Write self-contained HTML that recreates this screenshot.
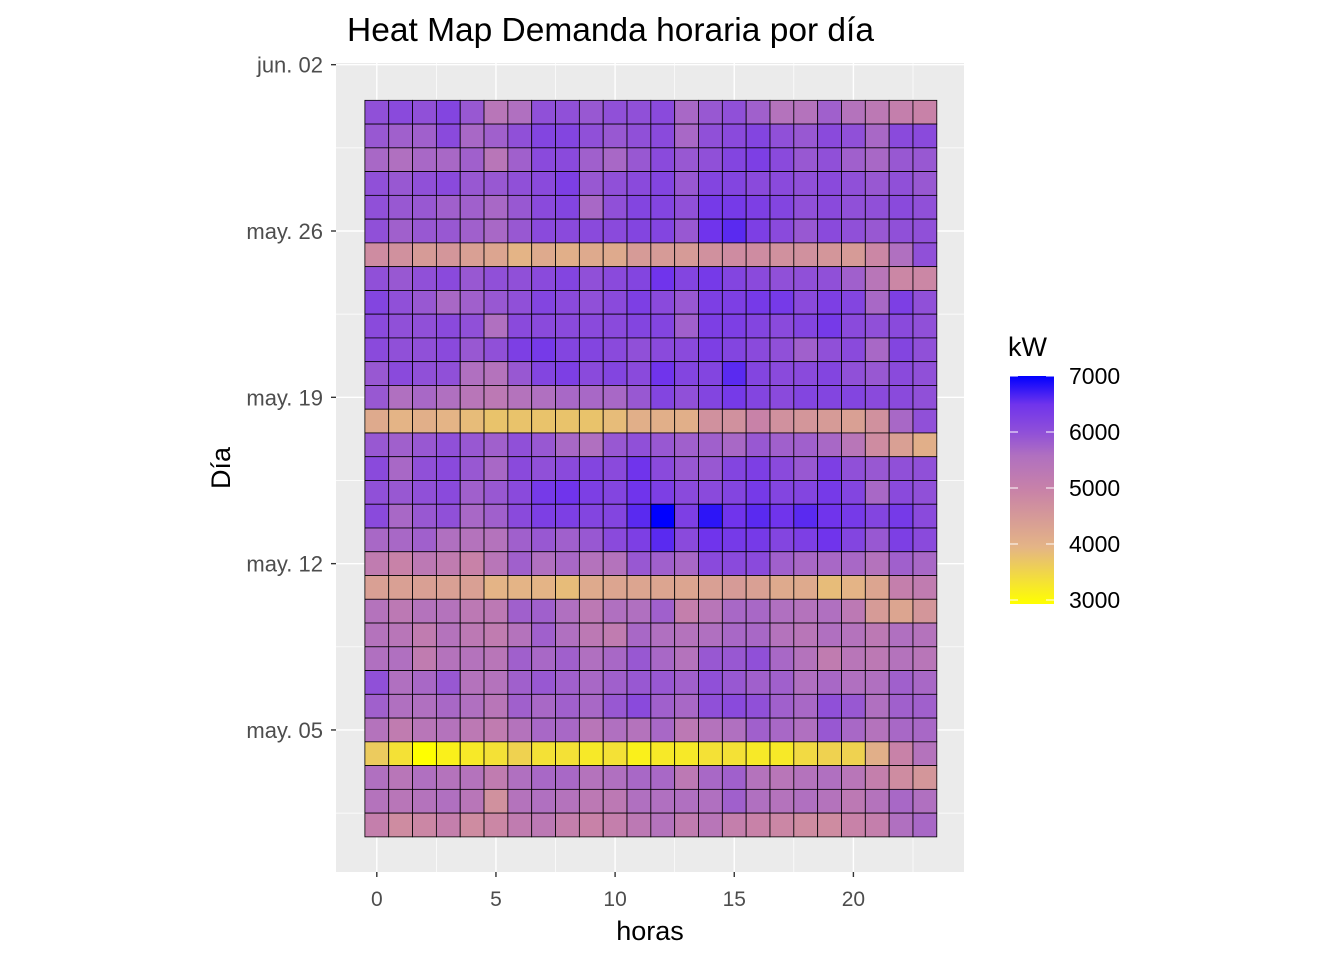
<!DOCTYPE html>
<html><head><meta charset="utf-8"><style>body{margin:0;background:#fff}svg{display:block;font-family:"Liberation Sans",sans-serif}</style></head>
<body>
<svg id="chart" width="1344" height="960" viewBox="0 0 1344 960">
<defs><linearGradient id="lg" x1="0" y1="1" x2="0" y2="0">
<stop offset="0" stop-color="#ffff00"/><stop offset="0.25" stop-color="#e4b486"/><stop offset="0.5" stop-color="#c882a8"/><stop offset="0.65" stop-color="#b070c0"/><stop offset="0.75" stop-color="#9050d8"/><stop offset="0.875" stop-color="#7034ec"/><stop offset="1" stop-color="#0000ff"/></linearGradient></defs>
<rect x="336" y="63" width="628" height="809" fill="#ebebeb"/>
<g id="grid"></g><g id="tiles"></g><g id="axes"></g>
<text x="347" y="41" font-size="33.5" fill="#000">Heat Map Demanda horaria por día</text>
<text x="650" y="940" font-size="27" text-anchor="middle" fill="#000">horas</text>
<text transform="translate(230,468) rotate(-90)" font-size="27" text-anchor="middle" fill="#000">Día</text>
<g>
<text x="1008" y="356" font-size="27" fill="#000">kW</text>
<rect x="1010" y="376" width="44" height="228" fill="url(#lg)"/>
<g id="legend-ticks"></g>
</g>
</svg>
<script>
const hours = [0,1,2,3,4,5,6,7,8,9,10,11,12,13,14,15,16,17,18,19,20,21,22,23];
// rows from May 31 (top) to May 1 (bottom), values in hundreds of kW
const demandRows = [
"60 61 60 62 59 54 56 60 60 59 60 60 61 57 59 60 58 55 55 58 55 53 51 50",
"59 58 58 61 57 58 60 62 62 60 59 60 61 57 60 61 62 60 59 61 60 57 61 61",
"57 56 57 57 58 54 58 61 61 58 57 59 61 59 60 62 63 61 59 60 58 57 59 59",
"60 59 60 61 59 59 60 61 63 59 60 61 62 59 62 62 61 61 60 61 60 59 60 59",
"60 59 59 58 58 57 59 61 62 57 60 62 62 60 64 64 63 62 60 61 60 60 61 60",
"60 58 59 59 58 57 59 61 61 61 61 62 62 59 65 66 63 61 59 61 60 59 60 60",
"48 47 45 46 44 43 40 42 41 42 42 45 45 45 47 48 48 47 47 46 45 49 56 60",
"60 59 60 61 59 60 60 61 62 60 61 62 65 62 64 62 61 60 60 60 58 54 49 49",
"62 60 59 57 58 59 60 62 61 60 61 63 61 59 63 63 64 64 61 63 62 57 63 60",
"61 60 60 61 60 56 61 61 61 61 61 62 62 58 63 63 62 61 62 64 61 60 61 60",
"61 60 60 61 59 60 63 64 62 62 61 60 61 61 63 62 61 60 58 60 61 57 62 60",
"59 61 60 60 56 55 59 62 63 61 62 61 65 62 62 66 62 61 61 62 60 59 61 60",
"59 56 57 56 54 53 55 56 57 57 57 59 62 60 62 64 62 61 62 62 62 61 61 60",
"42 40 41 40 39 38 38 38 38 38 39 41 41 41 47 47 50 47 46 45 44 47 57 60",
"59 58 59 60 59 58 60 59 57 56 59 60 59 58 58 57 59 58 58 57 54 48 44 41",
"61 57 60 61 59 57 61 60 61 62 61 65 61 59 59 62 63 61 59 63 60 59 60 60",
"60 59 60 61 58 59 61 64 65 63 62 65 63 61 61 62 64 62 62 64 62 57 61 60",
"61 57 59 60 57 58 61 63 63 62 62 66 70 63 68 65 66 65 66 65 64 62 64 61",
"57 57 58 56 55 55 58 59 58 59 61 63 66 61 65 64 64 62 63 65 62 59 63 61",
"52 50 53 52 50 54 58 56 57 55 55 59 58 57 61 61 61 58 57 57 57 55 58 57",
"44 44 44 44 44 40 40 40 39 42 43 43 43 43 44 45 44 42 42 39 40 43 51 52",
"55 53 55 55 53 53 58 58 56 53 56 56 58 51 54 57 57 56 55 56 53 45 43 46",
"55 54 52 55 53 52 55 58 56 53 52 57 56 55 56 57 57 55 54 56 55 53 56 55",
"56 56 52 55 55 54 58 57 58 56 57 59 57 55 59 59 60 57 55 52 54 53 55 54",
"60 56 57 59 55 55 58 59 58 57 58 59 59 58 60 59 58 58 56 57 56 56 58 57",
"58 56 56 57 56 54 58 57 58 57 59 61 58 57 60 61 60 58 57 60 59 56 58 58",
"55 52 54 55 53 52 55 57 57 54 56 55 57 53 55 56 58 57 56 59 57 55 57 57",
"37 34 30 32 33 34 36 34 34 33 34 32 33 33 34 34 33 33 35 36 36 41 50 55",
"56 54 56 55 55 52 56 57 57 55 56 57 57 53 57 58 55 54 55 56 54 51 48 46",
"55 54 55 56 54 47 55 56 55 53 53 56 56 56 56 58 56 55 56 55 53 55 57 56",
"51 48 49 51 48 49 52 53 51 50 51 53 55 52 54 51 50 49 48 48 50 51 56 57"
];
const xTicks = [0,5,10,15,20];
const yTickDays = [4,11,18,25,32]; // days since May 1
const yTickLabels = ["may. 05","may. 12","may. 19","may. 26","jun. 02"];
const legendTicks = [3000,4000,5000,6000,7000];

const NS="http://www.w3.org/2000/svg";
const xs = h => 376.8 + h*23.83;
const ys = d => 825 - d*23.76;
const ly = v => 600 - (v-3000)/4000*224;
const stops=[[3000,[255,255,0]],[4000,[228,180,134]],[5000,[200,130,168]],[5600,[176,112,192]],[6000,[144,80,216]],[6500,[112,52,236]],[7000,[0,0,255]]];
function color(v){v=Math.max(3000,Math.min(7000,v));for(let i=1;i<stops.length;i++){if(v<=stops[i][0]){const a=stops[i-1],b=stops[i],t=(v-a[0])/(b[0]-a[0]);return "rgb("+a[1].map((c,k)=>Math.round(c+(b[1][k]-c)*t)).join(",")+")";}}}
function mk(tag,at,parent){const e=document.createElementNS(NS,tag);for(const k in at)e.setAttribute(k,at[k]);parent.appendChild(e);return e;}
const grid=document.getElementById('grid'),tiles=document.getElementById('tiles'),axes=document.getElementById('axes');
xTicks.forEach(h=>{let l=mk('line',{x1:xs(h),x2:xs(h),y1:63,y2:872,stroke:'#fff','stroke-width':1.4},grid);});
[2.5,7.5,12.5,17.5,22.5].forEach(h=>{let l=mk('line',{x1:xs(h),x2:xs(h),y1:63,y2:872,stroke:'#fff','stroke-width':0.7},grid);});
yTickDays.forEach(d=>{let l=mk('line',{x1:336,x2:964,y1:ys(d),y2:ys(d),stroke:'#fff','stroke-width':1.4},grid);});
[0.5,7.5,14.5,21.5,28.5].forEach(d=>{let l=mk('line',{x1:336,x2:964,y1:ys(d),y2:ys(d),stroke:'#fff','stroke-width':0.7},grid);});
const n=demandRows.length;
demandRows.forEach((row,ri)=>{const day=n-1-ri;row.trim().split(/\s+/).forEach((s,hi)=>{const v=+s*100;const h=hours[hi];
const r=mk('rect',{x:xs(h-0.5),y:ys(day+0.5),width:23.83,height:23.76,fill:color(v),stroke:'#000','stroke-width':0.8},tiles);

});});
xTicks.forEach(h=>{mk('line',{x1:xs(h),x2:xs(h),y1:872,y2:877,stroke:'#333','stroke-width':1.4},axes);
const t=mk('text',{x:xs(h),y:906,'font-size':21,'text-anchor':'middle',fill:'#4d4d4d'},axes);t.textContent=h;

});
yTickDays.forEach((d,i)=>{mk('line',{x1:331,x2:336,y1:ys(d),y2:ys(d),stroke:'#333','stroke-width':1.4},axes);
const t=mk('text',{x:323,y:ys(d)+8,'font-size':22,'text-anchor':'end',fill:'#4d4d4d'},axes);t.textContent=yTickLabels[i];

});
const lt=document.getElementById('legend-ticks');
legendTicks.forEach(v=>{mk('line',{x1:1010,x2:1018,y1:ly(v),y2:ly(v),stroke:'#fff','stroke-width':1},lt);mk('line',{x1:1046,x2:1054,y1:ly(v),y2:ly(v),stroke:'#fff','stroke-width':1},lt);
const t=mk('text',{x:1069,y:ly(v)+8,'font-size':23,fill:'#000'},lt);t.textContent=v;

});
</script>
</body></html>
